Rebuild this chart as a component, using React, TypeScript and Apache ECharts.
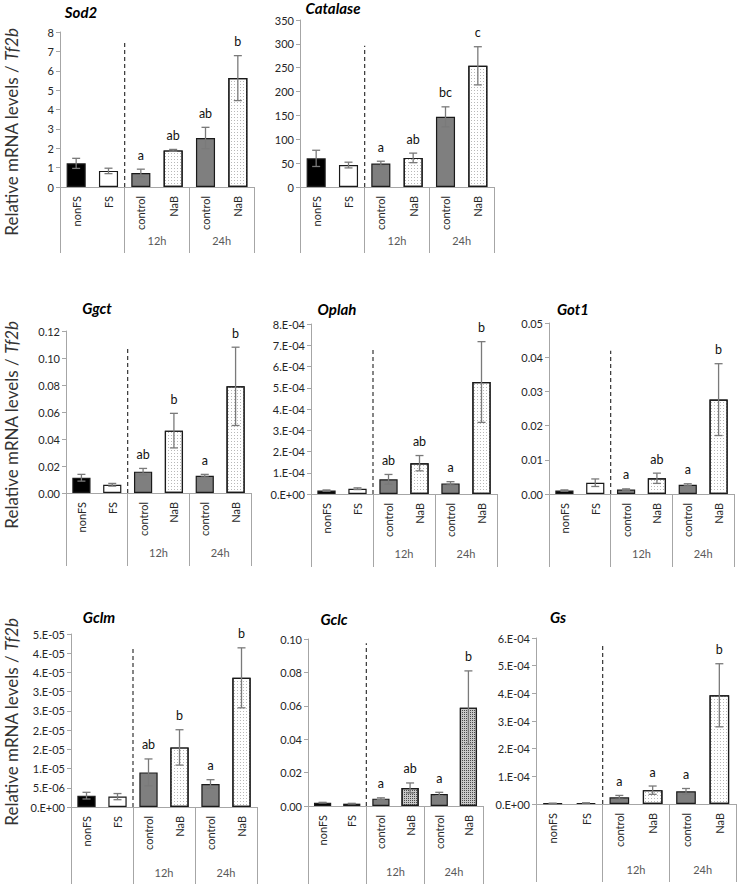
import React, { useEffect, useRef } from 'react';
import * as echarts from 'echarts';

const FONT = 'Lato, "Liberation Sans", sans-serif';

// ---------- data ----------
const categories = ['nonFS', 'FS', 'control', 'NaB', 'control', 'NaB'];
const groups = ['', '12h', '24h'];

const sod2Values = [1.22, 0.83, 0.72, 1.89, 2.53, 5.62];
const sod2Errors = [0.26, 0.14, 0.2, 0.05, 0.55, 1.16];
const sod2Letters = ['', '', 'a', 'ab', 'ab', 'b'];
const sod2Ticks = ['0', '1', '2', '3', '4', '5', '6', '7', '8'];

const catalaseValues = [60, 46, 49, 61, 147, 254];
const catalaseErrors = [17, 6, 5, 10, 21, 40];
const catalaseLetters = ['', '', 'a', 'ab', 'bc', 'c'];
const catalaseTicks = ['0', '50', '100', '150', '200', '250', '300', '350'];

const ggctValues = [0.0113, 0.0061, 0.0158, 0.0462, 0.0128, 0.079];
const ggctErrors = [0.0025, 0.001, 0.0024, 0.0128, 0.001, 0.029];
const ggctLetters = ['', '', 'ab', 'b', 'a', 'b'];
const ggctTicks = ['0.00', '0.02', '0.04', '0.06', '0.08', '0.10', '0.12'];

const oplahValues = [1.6e-5, 2.5e-5, 6.9e-5, 1.45e-4, 5.0e-5, 5.27e-4];
const oplahErrors = [0.3e-5, 0.4e-5, 2.3e-5, 3.6e-5, 0.8e-5, 1.9e-4];
const oplahLetters = ['', '', 'ab', 'ab', 'a', 'b'];
const oplahTicks = ['0.E+00', '1.E-04', '2.E-04', '3.E-04', '4.E-04', '5.E-04', '6.E-04', '7.E-04', '8.E-04'];

const got1Values = [0.001, 0.0033, 0.0013, 0.0046, 0.0027, 0.0276];
const got1Errors = [0.0002, 0.0011, 0.0002, 0.0015, 0.0003, 0.0105];
const got1Letters = ['', '', 'a', 'ab', 'a', 'b'];
const got1Ticks = ['0.00', '0.01', '0.02', '0.03', '0.04', '0.05'];

const gclmValues = [2.95e-6, 2.7e-6, 9.0e-6, 15.5e-6, 6.0e-6, 33.6e-6];
const gclmErrors = [0.87e-6, 0.8e-6, 3.5e-6, 4.6e-6, 1.1e-6, 7.8e-6];
const gclmLetters = ['', '', 'ab', 'b', 'a', 'b'];
const gclmTicks = ['0.E+00', '5.E-06', '1.E-05', '2.E-05', '2.E-05', '3.E-05', '3.E-05', '4.E-05', '4.E-05', '5.E-05'];

const gclcValues = [0.002, 0.0014, 0.0044, 0.0108, 0.0072, 0.0589];
const gclcErrors = [0.0002, 0.0002, 0.0005, 0.003, 0.001, 0.022];
const gclcLetters = ['', '', 'a', 'ab', 'a', 'b'];
const gclcTicks = ['0.00', '0.02', '0.04', '0.06', '0.08', '0.10'];

const gsValues = [2.4e-6, 3.6e-6, 2.4e-5, 5.0e-5, 4.6e-5, 3.93e-4];
const gsErrors = [0.3e-6, 0.4e-6, 0.7e-5, 1.5e-5, 1.0e-5, 1.14e-4];
const gsLetters = ['', '', 'a', 'a', 'a', 'b'];
const gsTicks = ['0.E+00', '1.E-04', '2.E-04', '3.E-04', '4.E-04', '5.E-04', '6.E-04'];

// axis scale settings
const panelNames = ['Sod2', 'Catalase', 'Ggct', 'Oplah', 'Got1', 'Gclm', 'Gclc', 'Gs'];
const panelValues = [sod2Values, catalaseValues, ggctValues, oplahValues, got1Values, gclmValues, gclcValues, gsValues];
const panelErrors = [sod2Errors, catalaseErrors, ggctErrors, oplahErrors, got1Errors, gclmErrors, gclcErrors, gsErrors];
const panelLetters = [sod2Letters, catalaseLetters, ggctLetters, oplahLetters, got1Letters, gclmLetters, gclcLetters, gsLetters];
const panelTicks = [sod2Ticks, catalaseTicks, ggctTicks, oplahTicks, got1Ticks, gclmTicks, gclcTicks, gsTicks];
const panelMax = [8, 350, 0.12, 8e-4, 0.05, 4.5e-5, 0.1, 6e-4];
const panelInterval = [1, 50, 0.02, 1e-4, 0.01, 5e-6, 0.02, 1e-4];
const panelDashTop = [7.45, 296, 0.107, 6.78e-4, 0.0419, 4.19e-5, 0.0974, 5.82e-4];
const dashPosition = 2; // boundary between FS and 12h control

// ---------- layout (pixels) ----------
const layout = [
  { left: 60, top: 32, width: 194, height: 155, row: 0, tx: 81, ty: 12 },
  { left: 300, top: 20, width: 194, height: 167, row: 0, tx: 333, ty: 8 },
  { left: 66, top: 331, width: 185, height: 162, row: 1, tx: 97, ty: 308 },
  { left: 311, top: 324, width: 186, height: 170, row: 1, tx: 337, ty: 309 },
  { left: 549, top: 323, width: 185, height: 171, row: 1, tx: 573, ty: 309 },
  { left: 71, top: 634, width: 186, height: 173, row: 2, tx: 99, ty: 617 },
  { left: 308, top: 639, width: 175, height: 167, row: 2, tx: 334, ty: 619 },
  { left: 536, top: 638, width: 200, height: 166, row: 2, tx: 558, ty: 617 },
];
const rowSepLen = [66, 73, 78];
const rowGroupMargin = [48, 54, 60];
const rowYTitleCenter = [132, 425, 722];

const AXIS_GRAY = '#a6a6a6';

const lightDots = {
  symbol: 'rect',
  symbolSize: 1,
  dashArrayX: [1, 2],
  dashArrayY: [1, 2],
  color: '#b8b8b8',
  rotation: 0,
};
const denseDots = {
  symbol: 'rect',
  symbolSize: 1,
  dashArrayX: [1, 1],
  dashArrayY: [1, 1],
  color: '#4a4a4a',
  rotation: 0,
};

function barStyle(k: number, dense: boolean) {
  const base = { borderColor: '#1a1a1a', borderWidth: 1.2 };
  if (k === 0) return { ...base, color: '#000000' };
  if (k === 1) return { ...base, color: '#ffffff' };
  if (k === 2 || k === 4) return { ...base, color: '#7f7f7f' };
  return dense
    ? { ...base, color: '#c8c8c8', decal: denseDots }
    : { ...base, color: '#ffffff', decal: lightDots };
}

function buildOption() {
  const grid: any[] = [];
  const xAxis: any[] = [];
  const yAxis: any[] = [];
  const series: any[] = [];
  const graphic: any[] = [];

  panelNames.forEach((name, i) => {
    const L = layout[i];
    grid.push({ left: L.left, top: L.top, width: L.width, height: L.height });
    const catIdx = xAxis.length;
    xAxis.push({
      type: 'category',
      gridIndex: i,
      data: categories,
      position: 'bottom',
      axisLine: { onZero: false, lineStyle: { color: AXIS_GRAY, width: 1 } },
      axisTick: { show: false },
      axisLabel: { rotate: 90, margin: 9, interval: 0, fontSize: 11, fontFamily: FONT, color: '#262626' },
      splitLine: { show: false },
    });
    xAxis.push({
      type: 'category',
      gridIndex: i,
      data: groups,
      position: 'bottom',
      axisLine: { show: false, onZero: false },
      axisTick: { show: true, interval: 0, length: rowSepLen[L.row], lineStyle: { color: AXIS_GRAY, width: 1 } },
      axisLabel: { margin: rowGroupMargin[L.row], interval: 0, fontSize: 11, fontFamily: FONT, color: '#595959' },
      splitLine: { show: false },
    });
    const valIdx = xAxis.length;
    xAxis.push({ type: 'value', gridIndex: i, min: 0, max: 6, show: false });

    const ticks = panelTicks[i];
    const interval = panelInterval[i];
    yAxis.push({
      type: 'value',
      gridIndex: i,
      min: 0,
      max: panelMax[i],
      interval,
      axisLine: { show: true, lineStyle: { color: AXIS_GRAY, width: 1 } },
      axisTick: { show: true, length: 4, lineStyle: { color: AXIS_GRAY } },
      axisLabel: {
        margin: 6,
        fontSize: 11,
        fontFamily: FONT,
        color: '#262626',
        formatter: (v: number) => ticks[Math.round(v / interval)] ?? '',
      },
      splitLine: { show: false },
    });

    const values = panelValues[i];
    const errors = panelErrors[i];
    const letters = panelLetters[i];
    const dense = name === 'Gclc';

    series.push({
      type: 'bar',
      xAxisIndex: catIdx,
      yAxisIndex: i,
      barWidth: '59%',
      silent: true,
      data: values.map((v, k) => ({ value: v, itemStyle: barStyle(k, dense) })),
    });

    series.push({
      type: 'custom',
      xAxisIndex: catIdx,
      yAxisIndex: i,
      silent: true,
      z: 5,
      encode: { x: 0, y: 1 },
      data: values.map((v, k) => [k, v, errors[k]]),
      renderItem: (params: any, api: any) => {
        const x = api.value(0);
        const v = api.value(1);
        const e = api.value(2);
        const top = api.coord([x, v + e]);
        const bot = api.coord([x, Math.max(v - e, 0)]);
        const cap = 4;
        const stroke = { stroke: '#7a7a7a', lineWidth: 1.3 };
        const children: any[] = [
          { type: 'line', shape: { x1: top[0], y1: top[1], x2: bot[0], y2: bot[1] }, style: stroke },
          { type: 'line', shape: { x1: top[0] - cap, y1: top[1], x2: top[0] + cap, y2: top[1] }, style: stroke },
          { type: 'line', shape: { x1: bot[0] - cap, y1: bot[1], x2: bot[0] + cap, y2: bot[1] }, style: stroke },
        ];
        const letter = letters[params.dataIndex];
        if (letter) {
          children.push({
            type: 'text',
            x: top[0],
            y: top[1] - 14,
            style: { text: letter, align: 'center', verticalAlign: 'middle', fontSize: 12.5, fontFamily: FONT, fill: '#111' },
          });
        }
        return { type: 'group', children };
      },
    });

    series.push({
      type: 'line',
      xAxisIndex: valIdx,
      yAxisIndex: i,
      silent: true,
      symbol: 'none',
      data: [
        [dashPosition, 0],
        [dashPosition, panelDashTop[i]],
      ],
      lineStyle: { color: '#333333', width: 1.2, type: [4, 3] },
      z: 4,
    });

    graphic.push({
      type: 'text',
      x: L.tx,
      y: L.ty,
      style: {
        text: name,
        align: 'center',
        verticalAlign: 'middle',
        fontSize: 15,
        fontWeight: 'bold',
        fontStyle: 'italic',
        fontFamily: FONT,
        fill: '#000',
      },
    });
  });

  rowYTitleCenter.forEach((cy) => {
    graphic.push({
      type: 'text',
      x: 11,
      y: cy,
      rotation: Math.PI / 2,
      style: {
        text: '{n|Relative mRNA levels / }{i|Tf2b}',
        align: 'center',
        verticalAlign: 'middle',
        rich: {
          n: { fontSize: 17, fontFamily: FONT, fill: '#333' },
          i: { fontSize: 17, fontFamily: FONT, fontStyle: 'italic', fill: '#333' },
        },
      },
    });
  });

  return {
    animation: false,
    backgroundColor: '#ffffff',
    grid,
    xAxis,
    yAxis,
    series,
    graphic,
  };
}

export default function App() {
  const ref = useRef<HTMLDivElement>(null);
  useEffect(() => {
    if (!ref.current) return;
    const chart = echarts.init(ref.current, undefined, { renderer: 'svg' });
    chart.setOption(buildOption() as any);
    return () => chart.dispose();
  }, []);
  return (
    <div
      ref={ref}
      style={{ position: 'absolute', left: 0, top: 0, width: 738, height: 884, background: '#fff' }}
    />
  );
}
